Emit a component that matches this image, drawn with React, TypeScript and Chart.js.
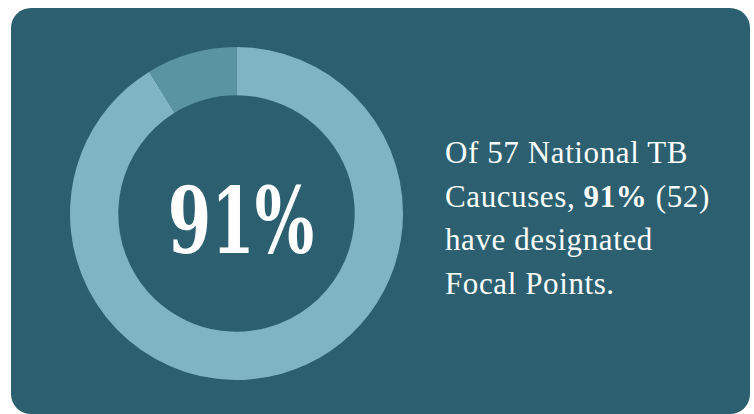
import React, { useEffect, useRef } from "react";
import { Chart, registerables } from "chart.js";

Chart.register(...registerables);

const categories = ["With designated Focal Points", "Without Focal Points"];
const caucusCounts = [52, 5];
const segmentColors = ["#7fb5c3", "#5a93a2"];
const centerLabel = "91%";
const bodyLines = ["Of 57 National TB", "have designated", "Focal Points."];

export default function App() {
  const canvasRef = useRef<HTMLCanvasElement | null>(null);

  useEffect(() => {
    if (!canvasRef.current) return;
    const chart = new Chart(canvasRef.current, {
      type: "doughnut",
      data: {
        labels: categories,
        datasets: [
          {
            data: caucusCounts,
            backgroundColor: segmentColors,
            borderWidth: 0,
            hoverOffset: 0,
          },
        ],
      },
      options: {
        animation: false,
        responsive: true,
        maintainAspectRatio: false,
        cutout: "71%",
        rotation: 0,
        layout: { padding: 0 },
        events: [],
        plugins: {
          legend: { display: false },
          tooltip: { enabled: false },
        },
      },
    });
    return () => chart.destroy();
  }, []);

  const bodyFont = '"Liberation Serif", serif';

  return (
    <div
      style={{
        position: "absolute",
        left: 11,
        top: 8,
        width: 739,
        height: 406,
        background: "#2c6071",
        borderRadius: 20,
        overflow: "hidden",
      }}
    >
      <div
        style={{
          position: "absolute",
          left: 59.2,
          top: 39,
          width: 333,
          height: 333,
        }}
      >
        <canvas ref={canvasRef} />
      </div>
      <div
        style={{
          position: "absolute",
          left: 229.5,
          top: 167,
          fontFamily: '"DejaVu Serif", serif',
          fontWeight: 700,
          fontSize: 92,
          lineHeight: "92px",
          color: "#ffffff",
          whiteSpace: "nowrap",
          transform: "translateX(-50%) scaleX(0.68)",
        }}
      >
        {centerLabel}
      </div>
      <div
        style={{
          position: "absolute",
          left: 434,
          top: 123,
          fontFamily: bodyFont,
          fontSize: 31,
          lineHeight: "43.7px",
          letterSpacing: "0.6px",
          color: "#ffffff",
          whiteSpace: "nowrap",
        }}
      >
        <div>{bodyLines[0]}</div>
        <div>
          Caucuses, <b style={{ fontWeight: 700 }}>{centerLabel}</b> (52)
        </div>
        <div>{bodyLines[1]}</div>
        <div>{bodyLines[2]}</div>
      </div>
    </div>
  );
}
